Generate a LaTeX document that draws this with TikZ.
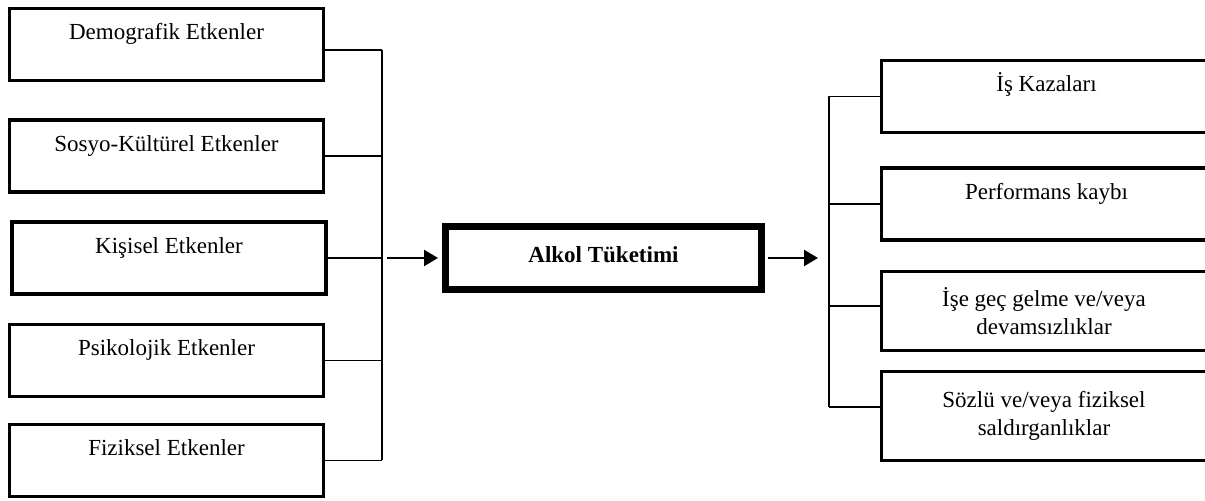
\documentclass[tikz,border=0pt]{standalone}
\usepackage{fontspec}
\setmainfont{Liberation Serif}
\usetikzlibrary{arrows.meta}

\begin{document}
\begin{tikzpicture}[>={Triangle[length=7pt,width=8pt]}, x=0.5pt, y=-0.5pt,
    every node/.style={font=\fontsize{11.5}{14}\selectfont},
    kutu/.style={draw, line width=1.6pt, inner xsep=0pt, inner ysep=0pt, align=center},
    ustkutu/.style={kutu, text height=15.75pt, text depth=20.25pt},
    hat/.style={line width=0.75pt}]
    \useasboundingbox (0,0) rectangle (1205,501);
    % sol kutular
    \node[ustkutu, minimum width=157pt] (demog) at (166.5,44.5) {Demografik Etkenler};
    \node[ustkutu, minimum width=157pt] (sosyo) at (166.5,156) {Sosyo-Kültürel Etkenler};
    \node[ustkutu, minimum width=157pt] (kisisel) at (169,258) {Kişisel Etkenler};
    \node[ustkutu, minimum width=157pt] (psiko) at (166.5,360.5) {Psikolojik Etkenler};
    \node[ustkutu, minimum width=157pt] (fiziksel) at (166.5,460.5) {Fiziksel Etkenler};
    % orta kutu
    \node[kutu, line width=3.5pt, minimum width=158pt, minimum height=31.5pt, text depth=3pt,
        font=\fontsize{11.5}{14}\selectfont\bfseries] (alkol) at (603.5,258) {Alkol Tüketimi};
    % sag kutular
    \node[ustkutu, minimum width=165pt] (kaza) at (1046.5,96.5) {İş Kazaları};
    \node[ustkutu, minimum width=165pt] (perf) at (1046.5,204) {Performans kaybı};
    \node[kutu, minimum width=162.5pt, minimum height=39.5pt] (gec) at (1044,311)
        {İşe geç gelme ve/veya\\devamsızlıklar};
    \node[kutu, minimum width=162.5pt, minimum height=44.5pt] (saldiri) at (1044,416)
        {Sözlü ve/veya fiziksel\\saldırganlıklar};

    \coordinate (solhat) at (382,0);
    \coordinate (saghat) at (829,0);
    \coordinate (demoguc) at ([yshift=-2.75pt]demog.east);
    \coordinate (gecuc) at ([yshift=2.5pt]gec.west);
    \coordinate (saldiriuc) at ([yshift=4.5pt]saldiri.west);

    \draw[hat] (demoguc) -- (demoguc -| solhat);
    \draw[hat] (sosyo.east) -- (sosyo.east -| solhat);
    \draw[hat] (kisisel.east) -- (kisisel.east -| solhat);
    \draw[hat] (psiko.east) -- (psiko.east -| solhat);
    \draw[hat] (fiziksel.east) -- (fiziksel.east -| solhat);
    \draw[hat] (demoguc -| solhat) -- (fiziksel.east -| solhat);

    \draw[->, line width=1.2pt] ([xshift=2.5pt]alkol.west -| solhat) -- ([xshift=-2pt]alkol.west);
    \draw[->, line width=1.2pt] ([xshift=1.5pt]alkol.east) -- ([xshift=-5.5pt]alkol.east -| saghat);

    \draw[hat] (kaza.west) -- (kaza.west -| saghat);
    \draw[hat] (perf.west) -- (perf.west -| saghat);
    \draw[hat] (gecuc) -- (gecuc -| saghat);
    \draw[hat] (saldiriuc) -- (saldiriuc -| saghat);
    \draw[hat] (kaza.west -| saghat) -- (saldiriuc -| saghat);
\end{tikzpicture}
\end{document}
